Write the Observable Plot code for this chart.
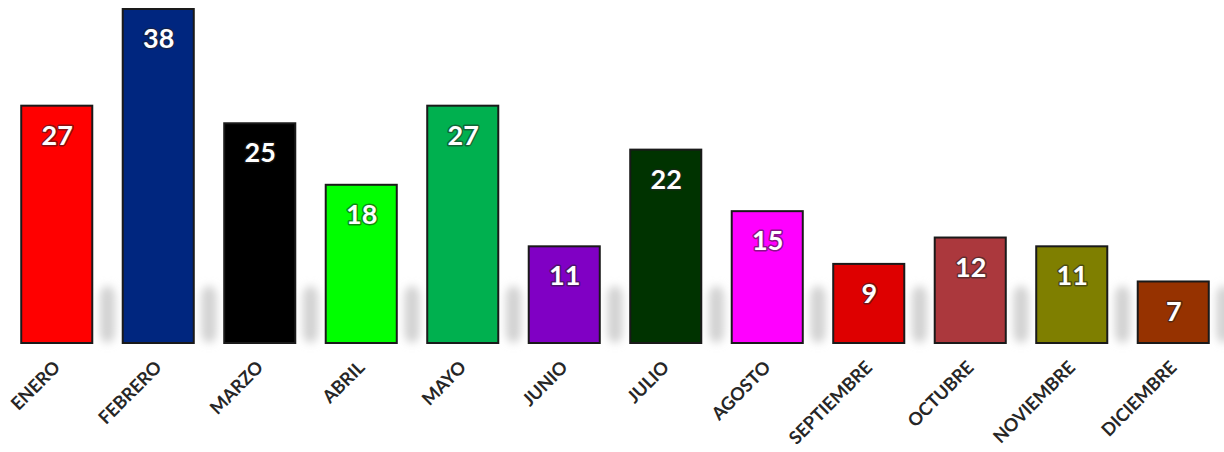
<!DOCTYPE html>
<html>
<head>
<meta charset="utf-8">
<script src="https://cdn.jsdelivr.net/npm/d3@7"></script>
<script src="https://cdn.jsdelivr.net/npm/@observablehq/plot@0.6"></script>
<style>
  html, body { margin: 0; padding: 0; background: #fff; }
  #chart { width: 1224px; height: 452px; }
</style>
</head>
<body>
<div id="chart"></div>
<script>
const months = ["ENERO","FEBRERO","MARZO","ABRIL","MAYO","JUNIO","JULIO","AGOSTO","SEPTIEMBRE","OCTUBRE","NOVIEMBRE","DICIEMBRE"];
const values = [27, 38, 25, 18, 27, 11, 22, 15, 9, 12, 11, 7];
const colors = ["#ff0000","#00267f","#000000","#00ff00","#00b04f","#8000c4","#003300","#ff00ff","#de0000","#ab383d","#7f7f00","#963200"];

const data = months.map((m, i) => ({month: m, value: values[i], color: colors[i]}));

const chart = Plot.plot({
  width: 1224,
  height: 452,
  marginTop: 9,
  marginBottom: 109,
  marginLeft: 6,
  marginRight: 0,
  style: {background: "#fff"},
  x: {domain: months, paddingInner: 0.3, paddingOuter: 0.15, round: false, label: null},
  y: {domain: [0, 38], axis: null},
  marks: [
    Plot.rectY(data, {x: "month", y1: 0, y2: () => 6.5, fill: "#d2d2d2", dx: 50.75, insetLeft: 28, insetRight: 28, rx: 10, ariaDescription: "shadow"}),
    Plot.barY(data, {x: "month", y: "value", fill: "color", stroke: "#1a1a1a", strokeWidth: 2}),
    Plot.text(data, {x: "month", y: "value", text: d => String(d.value), dy: 30, fill: "white", stroke: "#222", strokeWidth: 3, strokeOpacity: 0.55, fontSize: 27, fontWeight: "bold", fontFamily: "Lato"}),
    Plot.axisX({tickSize: 0, tickPadding: 21, tickRotate: -45, fontSize: 18, fontWeight: "bold", fontFamily: "Lato", fill: "#262626", label: null})
  ]
});

const svg = d3.select(chart);
const defs = svg.insert("defs", ":first-child");
defs.append("filter").attr("id", "blurShadow").attr("x", "-100%").attr("y", "-50%").attr("width", "300%").attr("height", "200%")
  .append("feGaussianBlur").attr("stdDeviation", 4);
svg.selectAll('g[aria-description="shadow"] rect').attr("filter", "url(#blurShadow)");

document.getElementById("chart").appendChild(chart);
</script>
</body>
</html>
